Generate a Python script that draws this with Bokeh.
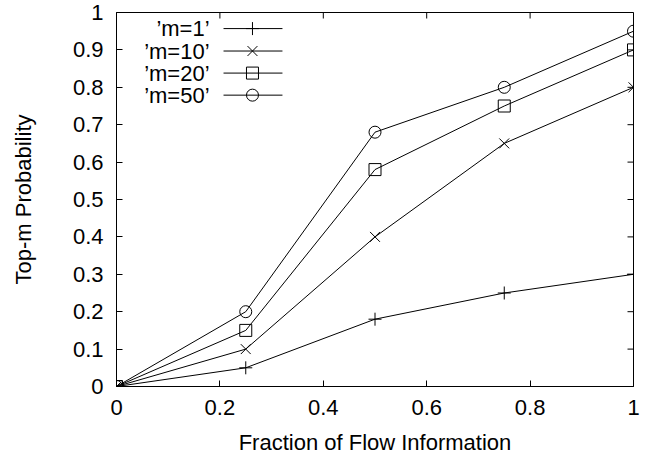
import math
from bokeh.plotting import figure
from bokeh.models import FixedTicker, Range1d
from bokeh.core.properties import value
from bokeh.embed import file_html
from bokeh.resources import INLINE

fractions = [0.0, 0.25, 0.5, 0.75, 1.0]
series_names = ["\u2019m=1\u2019", "\u2019m=10\u2019", "\u2019m=20\u2019", "\u2019m=50\u2019"]
m1 = [0.0, 0.05, 0.18, 0.25, 0.30]
m10 = [0.0, 0.10, 0.40, 0.65, 0.80]
m20 = [0.0, 0.15, 0.58, 0.75, 0.90]
m50 = [0.0, 0.20, 0.68, 0.80, 0.95]
x_ticks = [0, 0.2, 0.4, 0.6, 0.8, 1.0]
y_ticks = [0, 0.1, 0.2, 0.3, 0.4, 0.5, 0.6, 0.7, 0.8, 0.9, 1.0]

series = [m1, m10, m20, m50]
markers = ["cross", "x", "square", "circle"]
marker_sizes = [13, 14, 12, 12]

FONT = "Liberation Sans"
FS = "22px"

p = figure(width=659, height=459, output_backend="svg", toolbar_location=None,
           x_range=Range1d(0, 1), y_range=Range1d(0, 1),
           min_border_left=116, min_border_right=26, min_border_top=12, min_border_bottom=73,
           x_axis_label="Fraction of Flow Information", y_axis_label="Top-m Probability")
p.grid.visible = False
p.outline_line_color = "black"
p.outline_line_width = 1
p.background_fill_color = "white"
p.border_fill_color = "white"

def style_axis(ax, ticks):
    ax.ticker = FixedTicker(ticks=ticks)
    ax.major_tick_in = 6
    ax.major_tick_out = 0
    ax.minor_tick_line_color = None
    ax.axis_line_color = "black"
    ax.major_tick_line_color = "black"
    ax.major_label_text_font = FONT
    ax.major_label_text_font_size = FS
    ax.major_label_text_color = "black"
    ax.axis_label_text_font = FONT
    ax.axis_label_text_font_size = FS
    ax.axis_label_text_font_style = "normal"
    ax.axis_label_text_color = "black"

style_axis(p.xaxis[0], x_ticks)
style_axis(p.yaxis[0], y_ticks)
p.xaxis[0].major_label_standoff = 13
p.xaxis[0].axis_label_standoff = 12
p.yaxis[0].major_label_standoff = 13
p.yaxis[0].axis_label_standoff = 34

# mirrored inward ticks on the top and right edges
p.ray(x=x_ticks, y=[1.0] * len(x_ticks), length=6, length_units="screen",
      angle=-math.pi / 2, line_color="black", line_width=1)
p.ray(x=[1.0] * len(y_ticks), y=y_ticks, length=6, length_units="screen",
      angle=math.pi, line_color="black", line_width=1)

for vals, mk, sz in zip(series, markers, marker_sizes):
    p.line(fractions, vals, line_color="black", line_width=1)
    p.scatter(fractions, vals, marker=mk, size=sz, line_color="black",
              fill_color=None, line_width=1)

# legend (label on the left, sample on the right, as in the reference)
leg_text_x = 0.18
leg_line_x0, leg_line_x1, leg_mark_x = 0.207, 0.321, 0.263
leg_y = [0.957, 0.897, 0.838, 0.779]
p.text(x=[leg_text_x] * 4, y=leg_y, text=series_names, text_align="right",
       text_baseline="middle", text_font=value(FONT), text_font_size=FS, text_color="black")
p.segment(x0=[leg_line_x0] * 4, y0=leg_y, x1=[leg_line_x1] * 4, y1=leg_y,
          line_color="black", line_width=1)
for yy, mk, sz in zip(leg_y, markers, marker_sizes):
    p.scatter([leg_mark_x], [yy], marker=mk, size=sz, line_color="black",
              fill_color=None, line_width=1)

open("out.html", "w").write(file_html(p, INLINE))
